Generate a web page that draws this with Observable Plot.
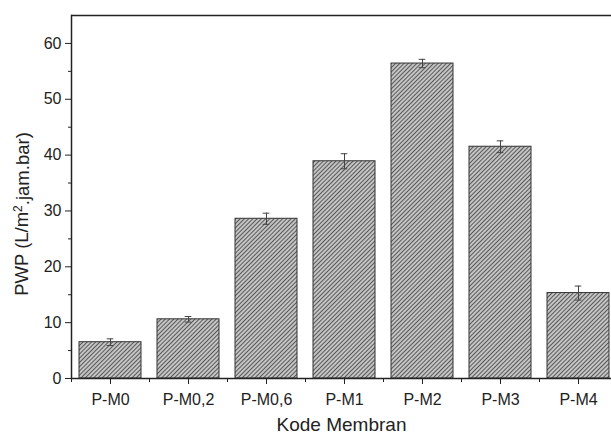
<!DOCTYPE html>
<html>
<head>
<meta charset="utf-8">
<script src="https://cdn.jsdelivr.net/npm/d3@7"></script>
<script src="https://cdn.jsdelivr.net/npm/@observablehq/plot@0.6"></script>
<style>
  html, body { margin: 0; padding: 0; background: #fff; }
  svg { font-family: "Liberation Sans", Arial, sans-serif; }
</style>
</head>
<body>
<div id="chart"></div>
<script>
const categories = ["P-M0", "P-M0,2", "P-M0,6", "P-M1", "P-M2", "P-M3", "P-M4"];
const pwp = [6.5, 10.6, 28.6, 38.9, 56.4, 41.5, 15.3];
const pwpErr = [0.6, 0.5, 1.0, 1.35, 0.75, 1.05, 1.25];
const majorTicks = [0, 10, 20, 30, 40, 50, 60];
const minorTicks = [5, 15, 25, 35, 45, 55];
const yLabelPre = "PWP (L/m";
const yLabelSup = "2";
const yLabelPost = ".jam.bar)";
const xLabel = "Kode Membran";

const data = categories.map((c, i) => ({cat: c, v: pwp[i], lo: pwp[i] - pwpErr[i], hi: pwp[i] + pwpErr[i]}));

const W = 611, H = 434;
const mL = 71, mT = 15, mB = 56;
const step = 78;

const chart = Plot.plot({
  width: W,
  height: H,
  marginLeft: mL,
  marginRight: 0,
  marginTop: mT,
  marginBottom: mB,
  style: {fontFamily: "Liberation Sans, Arial, sans-serif", color: "#222", background: "#fff"},
  x: {domain: categories, range: [mL, mL + step * categories.length], paddingInner: 0.2, paddingOuter: 0.1, axis: null},
  y: {domain: [0, 65], axis: null},
  marks: [
    Plot.barY(data, {x: "cat", y: "v", fill: "url(#hatch)", stroke: "#333", strokeWidth: 1}),
    Plot.ruleX(data, {x: "cat", y1: "lo", y2: "hi", stroke: "#444", strokeWidth: 1}),
    Plot.tickY(data, {x: "cat", y: "lo", stroke: "#444", insetLeft: 27.7, insetRight: 27.7}),
    Plot.tickY(data, {x: "cat", y: "hi", stroke: "#444", insetLeft: 27.7, insetRight: 27.7}),
    Plot.ruleY([0], {stroke: "#222", strokeWidth: 1.5}),
    Plot.ruleY([65], {stroke: "#222", strokeWidth: 1.5}),
    Plot.frame({anchor: "left", stroke: "#222", strokeWidth: 1.5}),
    Plot.axisY({ticks: majorTicks, tickSize: 6, tickPadding: 4, fontSize: 16, label: null, stroke: "#222"}),
    Plot.axisY({ticks: minorTicks, tickSize: 3, tickFormat: () => "", label: null, stroke: "#222"}),
    Plot.axisX({tickSize: 6, tickPadding: 9, fontSize: 16, label: null, stroke: "#222"}),
    Plot.axisX({tickSize: 4, tickFormat: () => "", label: null, dx: -step / 2, stroke: "#222"}),
    Plot.text([yLabelPre + yLabelSup + yLabelPost], {frameAnchor: "left", rotate: -90, dx: -49, dy: 17, fontSize: 18.5, fill: "#222", lineAnchor: "middle", textAnchor: "middle", className: "ylabel"}),
    Plot.text([xLabel], {frameAnchor: "bottom", dy: 46, fontSize: 19, fill: "#222", lineAnchor: "middle", textAnchor: "middle"})
  ]
});

// superscript in y label
const yText = chart.querySelector(".ylabel text");
if (yText) {
  yText.textContent = "";
  const ns0 = "http://www.w3.org/2000/svg";
  const t1 = document.createElementNS(ns0, "tspan"); t1.textContent = yLabelPre;
  const t2 = document.createElementNS(ns0, "tspan"); t2.textContent = yLabelSup;
  t2.setAttribute("font-size", "12"); t2.setAttribute("dy", "-0.5em");
  const t3 = document.createElementNS(ns0, "tspan"); t3.textContent = yLabelPost;
  t3.setAttribute("dy", "0.33em");
  yText.appendChild(t1); yText.appendChild(t2); yText.appendChild(t3);
}

// hatch pattern definition
const ns = "http://www.w3.org/2000/svg";
const defs = document.createElementNS(ns, "defs");
const pat = document.createElementNS(ns, "pattern");
pat.setAttribute("id", "hatch");
pat.setAttribute("patternUnits", "userSpaceOnUse");
pat.setAttribute("width", "3");
pat.setAttribute("height", "3");
pat.setAttribute("patternTransform", "rotate(45)");
const bg = document.createElementNS(ns, "rect");
bg.setAttribute("width", "3"); bg.setAttribute("height", "3"); bg.setAttribute("fill", "#c4c4c4");
const ln = document.createElementNS(ns, "rect");
ln.setAttribute("x", "0"); ln.setAttribute("y", "0"); ln.setAttribute("width", "1"); ln.setAttribute("height", "3"); ln.setAttribute("fill", "#585858");
pat.appendChild(bg); pat.appendChild(ln);
defs.appendChild(pat);
chart.insertBefore(defs, chart.firstChild);

document.getElementById("chart").appendChild(chart);
</script>
</body>
</html>
